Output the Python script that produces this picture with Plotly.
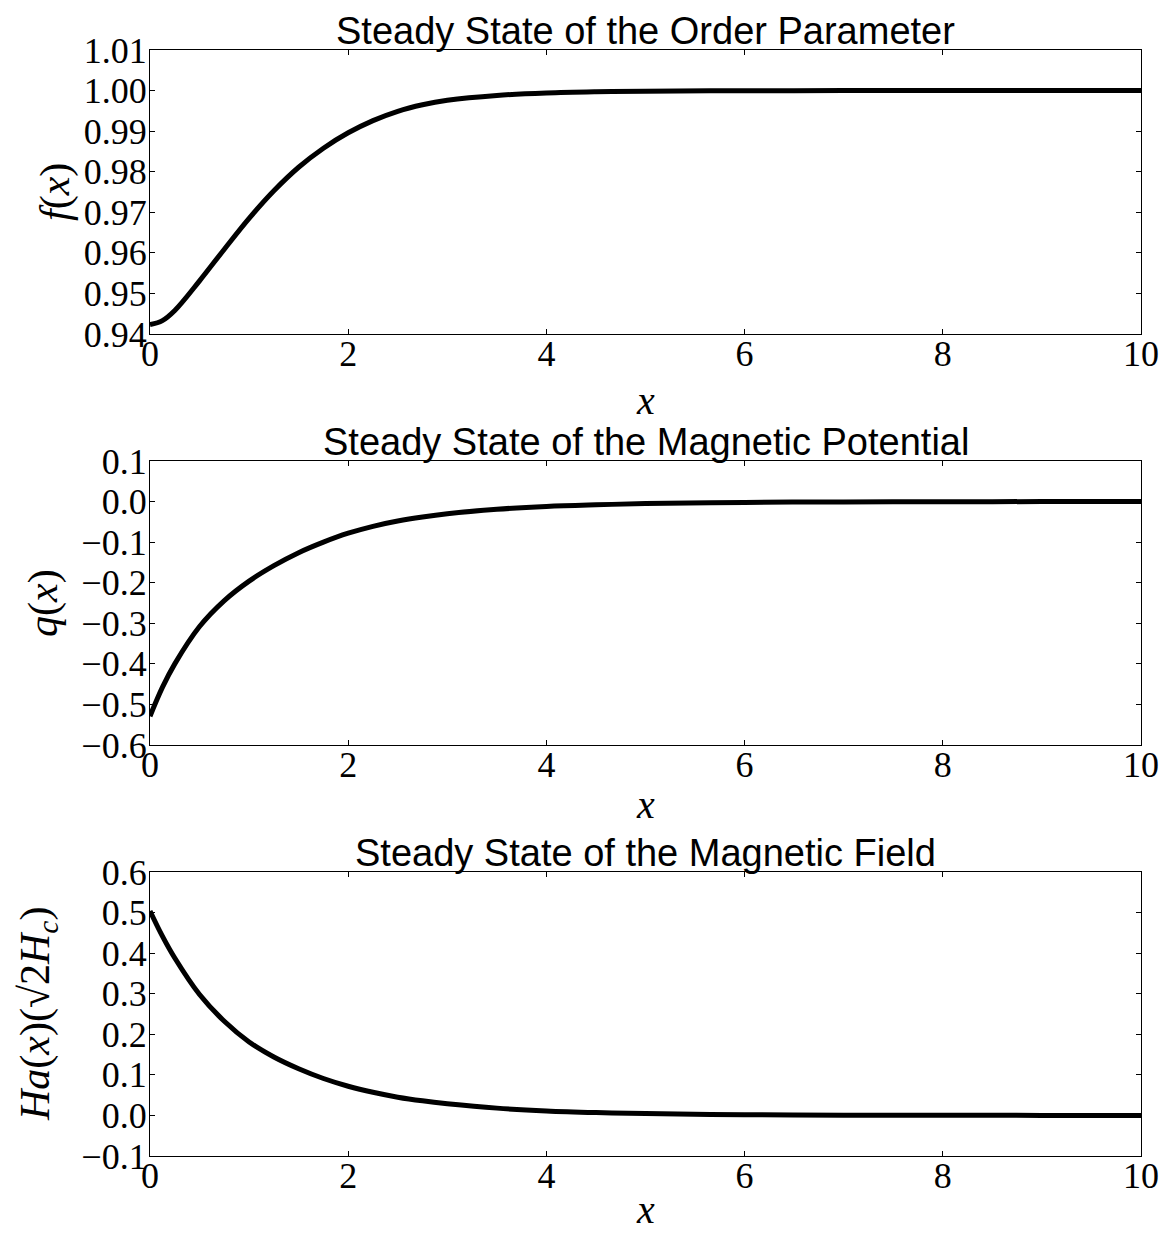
import plotly.graph_objects as go

# ---- data ----
x_vals = [0, 0.125, 0.25, 0.5, 0.75, 1.0, 1.25, 1.5, 1.75, 2.0, 2.25, 2.5, 2.75, 3.0, 3.5, 4.0, 4.5, 5.0, 6.0, 7.0, 8.0, 9.0, 10.0]
f_vals = [0.9423, 0.9433, 0.9458, 0.9531, 0.9609, 0.9685, 0.9753, 0.9811, 0.9858, 0.9896, 0.9926, 0.9949, 0.9965, 0.9976,
          0.9988, 0.9994, 0.9997, 0.99985, 0.99995, 1.0, 1.0, 1.0, 1.0]
q_vals = [-0.529, -0.458, -0.400, -0.308, -0.244, -0.196, -0.158, -0.126, -0.100, -0.078, -0.061, -0.048, -0.038, -0.030,
          -0.019, -0.012, -0.008, -0.005, -0.002, -0.0008, -0.0003, -0.0001, 0.0]
h_vals = [0.504, 0.442, 0.388, 0.298, 0.232, 0.181, 0.144, 0.115, 0.091, 0.072, 0.057, 0.045, 0.036, 0.029,
          0.018, 0.011, 0.007, 0.0045, 0.0018, 0.0007, 0.0003, 0.0001, 0.0]

titles = ["Steady State of the Order Parameter", "Steady State of the Magnetic Potential", "Steady State of the Magnetic Field"]
ylabels = ["<i>f</i>(<i>x</i>)", "<i>q</i>(<i>x</i>)", "<i>Ha</i>(<i>x</i>)(√2<i>H<sub>c</sub></i>)"]
x_ticks = [0, 2, 4, 6, 8, 10]
f_ticks = [0.94, 0.95, 0.96, 0.97, 0.98, 0.99, 1.00, 1.01]
q_ticks = [-0.6, -0.5, -0.4, -0.3, -0.2, -0.1, 0.0, 0.1]
h_ticks = [-0.1, 0.0, 0.1, 0.2, 0.3, 0.4, 0.5, 0.6]

W, H = 1162, 1234
left, right = 150, 1141
rows = [(50, 334), (461, 745), (872, 1156)]

def fmt(v, nd):
    s = f"{abs(v):.{nd}f}"
    return ("\u2212" + s) if v < 0 and abs(v) > 1e-12 else s

serif = "Liberation Serif, Times New Roman, serif"
sans = "Liberation Sans, Arial, Helvetica, sans-serif"

fig = go.Figure()
series = [f_vals, q_vals, h_vals]
yticks = [f_ticks, q_ticks, h_ticks]
ndig = [2, 1, 1]
ylab_x = [56, 43, 38]
xlab_y = [400, 805, None]

layout = dict(width=W, height=H, margin=dict(l=0, r=0, t=0, b=0, autoexpand=False),
              paper_bgcolor="white", plot_bgcolor="white", showlegend=False)
annotations = []
for i in range(3):
    sfx = "" if i == 0 else str(i + 1)
    top, bot = rows[i]
    fig.add_trace(go.Scatter(x=x_vals, y=series[i], mode="lines",
                             line=dict(color="black", width=5, shape="spline", smoothing=1.0),
                             xaxis="x" + sfx, yaxis="y" + sfx, cliponaxis=True))
    common = dict(ticks="inside", ticklen=5, tickwidth=1, tickcolor="black",
                  showline=True, linecolor="black", linewidth=1.3, mirror="ticks",
                  showgrid=False, zeroline=False, automargin=False,
                  tickfont=dict(family=serif, size=36, color="black"))
    ax = dict(domain=[left / W, right / W], range=[0, 10], anchor="y" + sfx,
              tickvals=x_ticks, ticktext=[str(t) for t in x_ticks],
              ticklabelstandoff=-12, **common)
    ay = dict(domain=[1 - bot / H, 1 - top / H], range=[yticks[i][0], yticks[i][-1]], anchor="x" + sfx,
              tickvals=yticks[i], ticktext=[fmt(t, ndig[i]) for t in yticks[i]],
              ticklabelstandoff=-5, **common)
    layout["xaxis" + sfx] = ax
    layout["yaxis" + sfx] = ay
    annotations.append(dict(text=titles[i], x=(left + right) / 2 / W, y=1 - top / H,
                            xref="paper", yref="paper", xanchor="center", yanchor="bottom",
                            yshift=-4, showarrow=False,
                            font=dict(family=sans, size=38, color="black")))
    if xlab_y[i] is not None:
        annotations.append(dict(text="<i>x</i>", x=(left + right) / 2 / W, y=1 - xlab_y[i] / H,
                                xref="paper", yref="paper", xanchor="center", yanchor="middle",
                                showarrow=False, font=dict(family=serif, size=40, color="black")))
    else:
        annotations.append(dict(text="<i>x</i>", x=(left + right) / 2 / W, y=0,
                                xref="paper", yref="paper", xanchor="center", yanchor="bottom",
                                showarrow=False, font=dict(family=serif, size=40, color="black")))
    annotations.append(dict(text=ylabels[i], x=ylab_x[i] / W, y=1 - (top + bot) / 2 / H,
                            xref="paper", yref="paper", xanchor="center", yanchor="middle",
                            textangle=-90, showarrow=False,
                            font=dict(family=serif, size=42, color="black")))
layout["annotations"] = annotations
fig.update_layout(**layout)
fig.write_html("out.html")
